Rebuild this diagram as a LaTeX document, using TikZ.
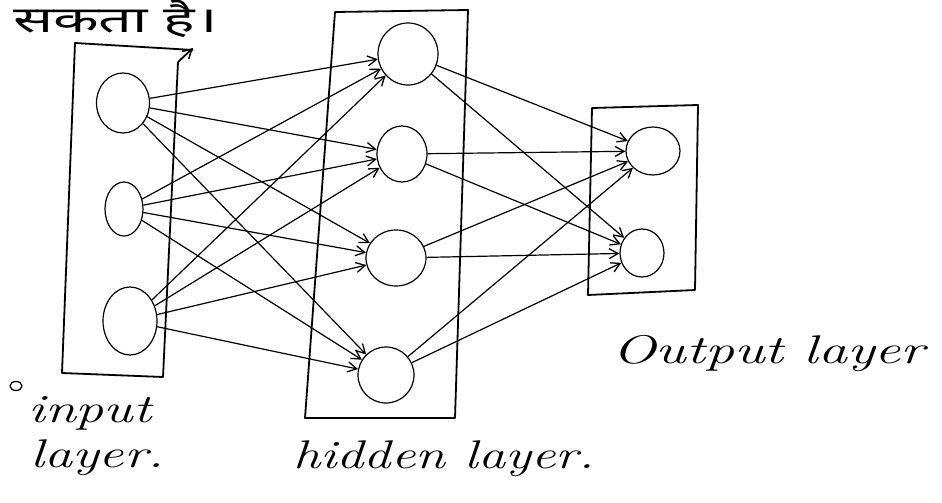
\documentclass[tikz,border=0pt]{standalone}
\usepackage{fontspec}
\newfontfamily\devfont[Script=Devanagari]{Noto Sans}
\usetikzlibrary{shapes.geometric,arrows.meta}
\tikzset{
  neuron/.style={draw, ellipse, line width=1.2pt, inner sep=0pt},
  conn/.style={line width=1.2pt, -{Straight Barb[length=9pt,width=10pt,line width=1.3pt]}},
  layerbox/.style={line width=1.8pt, line join=round},
  hand/.style={font=\fontsize{40}{44}\selectfont\itshape, inner sep=0pt}
}
\begin{document}
\begin{tikzpicture}[x=1pt,y=-1pt]
\useasboundingbox (0,0) rectangle (942,503);
% layer boxes
\draw[layerbox] (193,50) -- (75,43) -- (62,373) -- (163,377) -- (178,62);
\draw[layerbox,-{Straight Barb[length=9pt,width=10pt,line width=1.5pt]}] (178,62) -- (193,48);
\draw[layerbox] (335,12) -- (468,10) -- (455,418) -- (305,418) -- cycle;
\draw[layerbox] (592,108) -- (698,105) -- (695,290) -- (588,295) -- cycle;
% neurons
\node[neuron, minimum width=53pt, minimum height=60pt] (I1) at (123,103) {};
\node[neuron, minimum width=38pt, minimum height=54pt] (I2) at (124,209) {};
\node[neuron, minimum width=54pt, minimum height=68pt] (I3) at (130,321) {};
\node[neuron, minimum width=60pt, minimum height=62pt] (H1) at (408,54) {};
\node[neuron, minimum width=50pt, minimum height=56pt] (H2) at (402,154) {};
\node[neuron, minimum width=60pt, minimum height=56pt] (H3) at (396,258) {};
\node[neuron, minimum width=56pt, minimum height=56pt] (H4) at (386,375) {};
\node[neuron, minimum width=54pt, minimum height=48pt] (O1) at (653,151) {};
\node[neuron, minimum width=44pt, minimum height=48pt] (O2) at (642,253) {};
% input -> hidden
\foreach \i in {I1,I2,I3}{
  \foreach \h in {H1,H2,H3,H4}{
    \draw[conn] (\i) -- (\h);
  }
}
% hidden -> output
\foreach \h in {H1,H2,H3,H4}{
  \foreach \o in {O1,O2}{
    \draw[conn] (\h) -- (\o);
  }
}
% labels
\node[inner sep=0pt, anchor=base west] (top) at (13,33) {\fontsize{36}{40}\devfont\scalebox{1.65}[1]{सकता है।}};
\node[draw, ellipse, line width=1.3pt, minimum width=12pt, minimum height=9pt, inner sep=0pt] (dot) at (16,386) {};
\node[hand, anchor=base west] (inp) at (28,422) {\scalebox{1.4}[1]{input}};
\node[hand, anchor=base west] (lay) at (30,467) {\scalebox{1.4}[1]{layer.}};
\node[hand, anchor=base west] (hid) at (293,468) {\scalebox{1.36}[1]{hidden layer.}};
\node[hand, anchor=base west] (out) at (612,363) {\scalebox{1.45}[1]{Output layer}};
\end{tikzpicture}
\end{document}
